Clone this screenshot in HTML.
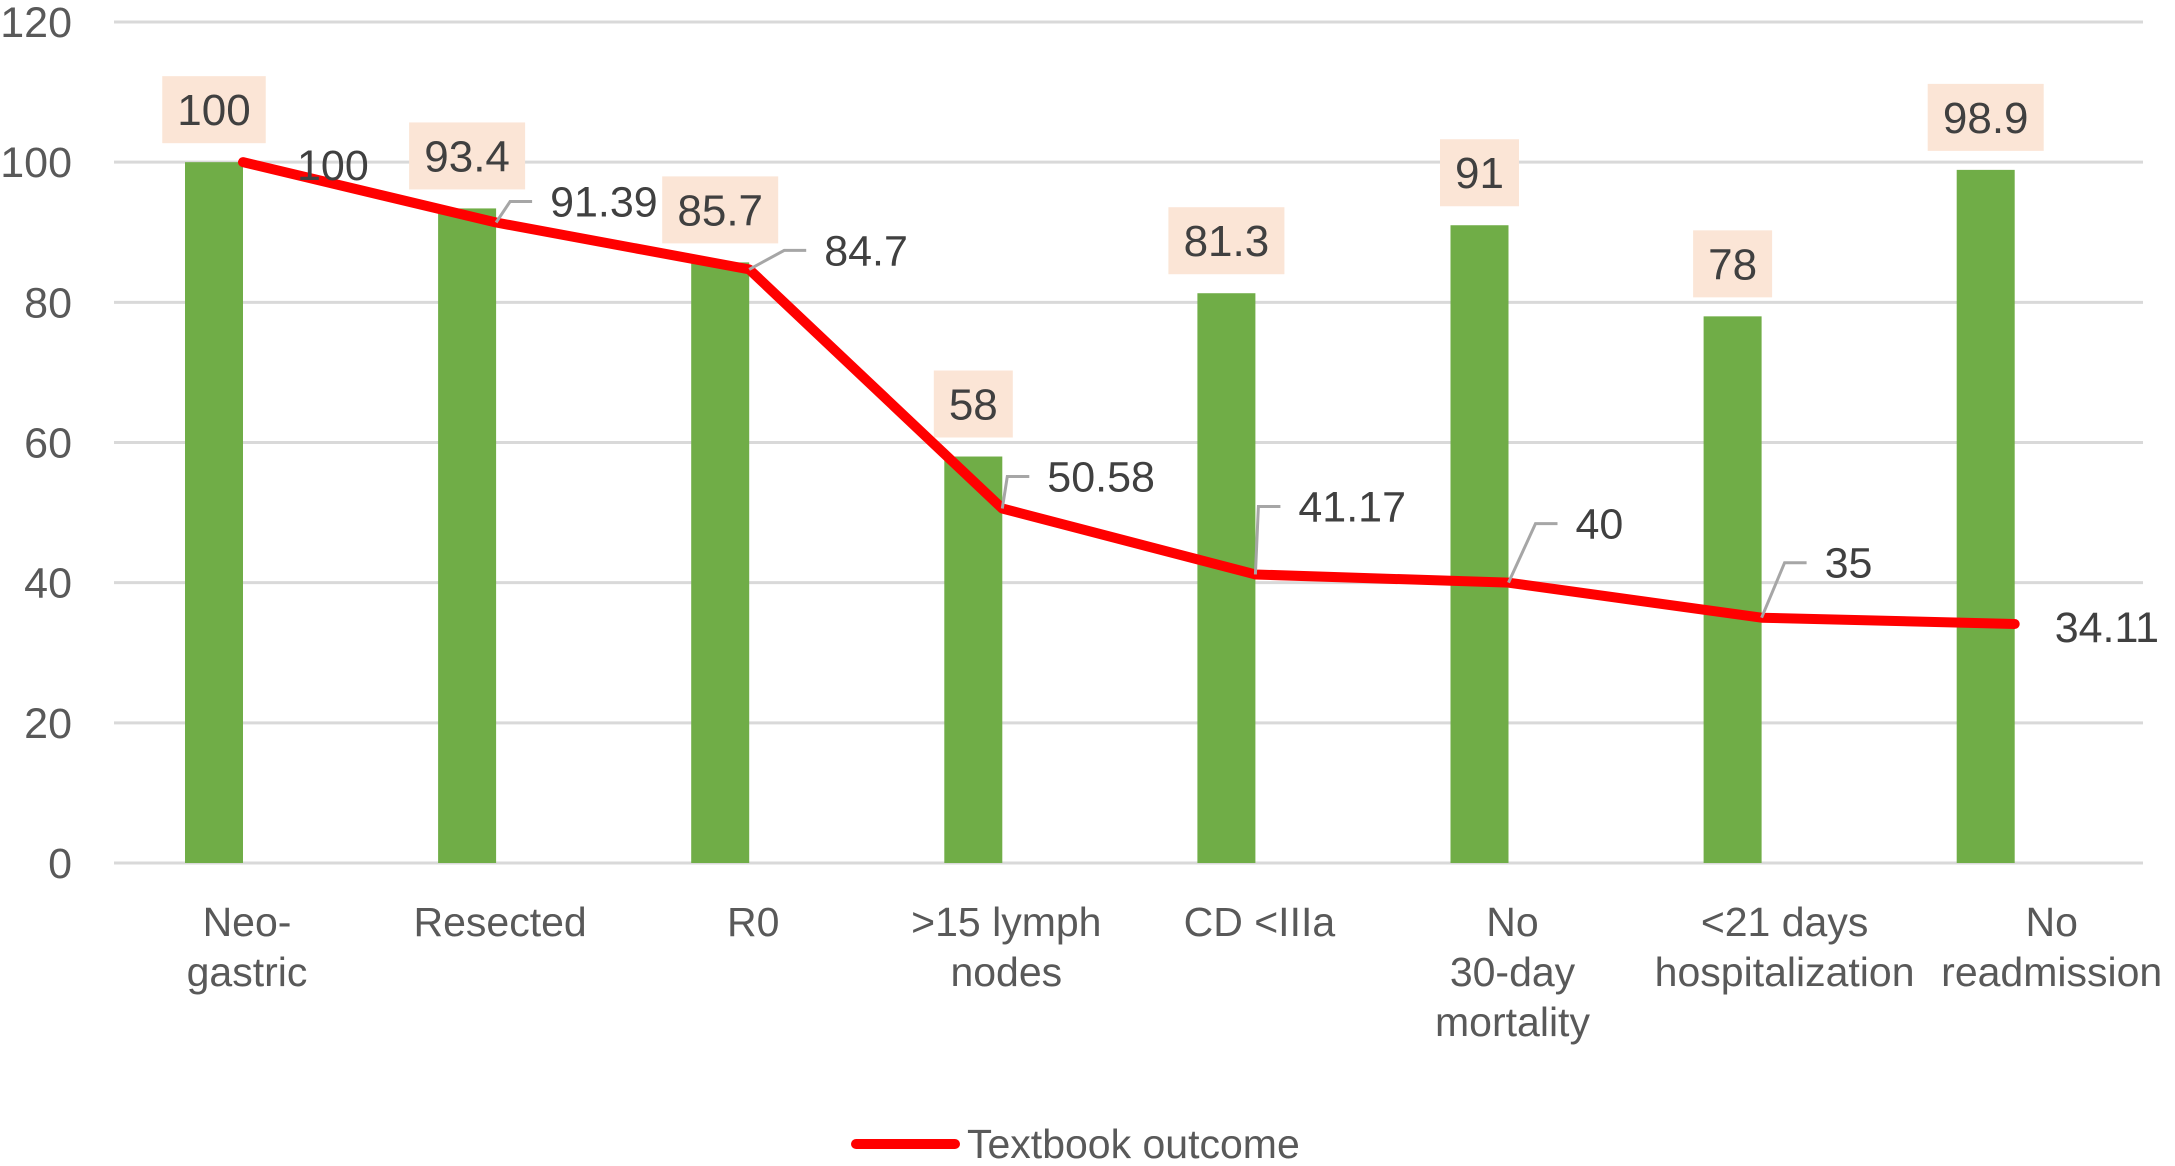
<!DOCTYPE html>
<html><head><meta charset="utf-8"><style>
html,body{margin:0;padding:0;background:#fff;}
svg{display:block;font-family:"Liberation Sans",Arial,sans-serif;}
</style></head><body>
<svg id="chart" width="2175" height="1166" viewBox="0 0 2175 1166" xmlns="http://www.w3.org/2000/svg">
<g id="grid"></g>
<g id="yticks"></g>
<g id="bars"></g>
<g id="barlabels"></g>
<g id="line"></g>
<g id="linelabels"></g>
<g id="xlabels"></g>
<g>
<line x1="856" y1="1144" x2="955" y2="1144" stroke="#ff0000" stroke-width="10" stroke-linecap="round"/>
<text x="967" y="1158" font-size="41" fill="#595959">Textbook outcome</text>
</g>
</svg>
<script>
const categories = [["Neo-","gastric"],["Resected"],["R0"],[">15 lymph","nodes"],["CD <IIIa"],["No","30-day","mortality"],["<21 days","hospitalization"],["No","readmission"]];
const barValues = [100, 93.4, 85.7, 58, 81.3, 91, 78, 98.9];
const lineValues = [100, 91.39, 84.7, 50.58, 41.17, 40, 35, 34.11];
const yTicks = [0, 20, 40, 60, 80, 100, 120];

const NS = "http://www.w3.org/2000/svg";
const L = 114, R = 2143, Y0 = 863, Y120 = 22;
const X0 = 214, band = 253.1;
const xC = i => X0 + band * i;
const y = v => Y0 - (v / 120) * (Y0 - Y120);
const barW = 58;
const labelDX = [54, 54, 75, 45, 43, 67, 63, 40];
const labelDY = [3, -21, -19, -32, -68, -59, -55, 3];
function mk(tag, attrs, parent) {
  const e = document.createElementNS(NS, tag);
  for (const k in attrs) e.setAttribute(k, attrs[k]);
  parent.appendChild(e);
  return e;
}
const grid = document.getElementById('grid');
const yt = document.getElementById('yticks');
yTicks.forEach(t => {
  const g = mk('line', {x1: L, x2: R, y1: y(t), y2: y(t), stroke: '#d9d9d9', 'stroke-width': 3}, grid);
  
  
  const tx = mk('text', {x: 72, y: y(t) + 15, 'font-size': 43, fill: '#595959', 'text-anchor': 'end'}, yt);
  tx.textContent = t;
  
  
});
const bars = document.getElementById('bars');
const bl = document.getElementById('barlabels');
barValues.forEach((v, i) => {
  const b = mk('rect', {x: xC(i) - barW / 2, y: y(v), width: barW, height: Y0 - y(v), fill: '#70ad47'}, bars);
  
  
  const s = String(v);
  const tw = s.length * 24.5 + (s.includes('.') ? -12 : 0);
  const bw = tw + 30;
  const box = mk('rect', {x: xC(i) - bw / 2, y: y(v) - 19 - 67, width: bw, height: 67, fill: '#fbe5d6'}, bl);
  
  
  const t = mk('text', {x: xC(i), y: y(v) - 19 - 18, 'font-size': 44, fill: '#404040', 'text-anchor': 'middle'}, bl);
  t.textContent = s;
  
  
});
const lineG = document.getElementById('line');
const lx = i => xC(i) + barW / 2;
const pts = lineValues.map((v, i) => lx(i) + ',' + y(v)).join(' ');
const pl = mk('polyline', {points: pts, fill: 'none', stroke: '#ff0000', 'stroke-width': 10, 'stroke-linejoin': 'round', 'stroke-linecap': 'round'}, lineG);


const ll = document.getElementById('linelabels');
lineValues.forEach((v, i) => {
  const px = lx(i), py = y(v);
  const tx = px + labelDX[i], ty = py + labelDY[i];
  const leader = i > 0 && i < lineValues.length - 1;
  if (leader) {
    const ld = mk('polyline', {points: px + ',' + py + ' ' + (tx - 40) + ',' + ty + ' ' + (tx - 18) + ',' + ty, fill: 'none', stroke: '#a6a6a6', 'stroke-width': 3}, ll);
    
    
  }
  const t = mk('text', {x: tx, y: ty + 15, 'font-size': 43, fill: '#404040'}, ll);
  t.textContent = v;
  
  
});
const xl = document.getElementById('xlabels');
categories.forEach((lines, i) => {
  let cx = xC(i) + 33;
  if (i === 6) cx = xC(i) + 52;
  if (i === 7) cx = xC(i) + 66;
  const t = mk('text', {x: cx, y: 936, 'font-size': 41, fill: '#595959', 'text-anchor': 'middle'}, xl);
  
  
  lines.forEach((ln, j) => {
    const s = mk('tspan', {x: cx, dy: j === 0 ? 0 : 50}, t);
    s.textContent = ln;
  });
});
</script>
</body></html>
